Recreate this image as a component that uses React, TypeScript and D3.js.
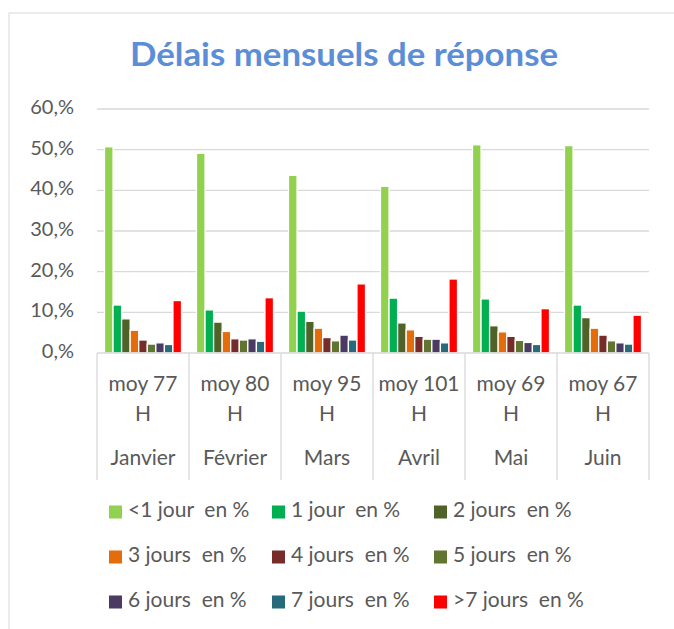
import React from 'react'
import * as d3 from 'd3'

const months = ['Janvier', 'Février', 'Mars', 'Avril', 'Mai', 'Juin']
const moyLabels = ['moy 77', 'moy 80', 'moy 95', 'moy 101', 'moy 69', 'moy 67']
const yTicks = [0, 10, 20, 30, 40, 50, 60]

const seriesNames = [
  '<1 jour  en %', '1 jour  en %', '2 jours  en %',
  '3 jours  en %', '4 jours  en %', '5 jours  en %',
  '6 jours  en %', '7 jours  en %', '>7 jours  en %'
]
const seriesColors = ['#92D050', '#00B050', '#4F6228', '#E46C0A', '#772C2A', '#5F7530', '#4B3A62', '#276A7C', '#FF0000']

const lessThan1 = [50.7, 49.1, 43.7, 41.0, 51.2, 51.0]
const day1 = [11.8, 10.6, 10.3, 13.5, 13.3, 11.8]
const days2 = [8.4, 7.6, 7.8, 7.4, 6.7, 8.7]
const days3 = [5.6, 5.3, 6.1, 5.7, 5.2, 6.1]
const days4 = [3.2, 3.5, 3.8, 4.1, 4.1, 4.4]
const days5 = [2.2, 3.2, 3.0, 3.4, 3.1, 3.0]
const days6 = [2.5, 3.5, 4.4, 3.4, 2.6, 2.5]
const days7 = [2.1, 2.9, 3.2, 2.5, 2.1, 2.2]
const moreThan7 = [12.9, 13.6, 17.0, 18.2, 10.9, 9.3]

const seriesValues = [lessThan1, day1, days2, days3, days4, days5, days6, days7, moreThan7]

const font = 'Lato, "Open Sans", sans-serif'
const textColor = '#595959'

export default function App() {
  const left = 97, right = 649, top = 109, bottom = 353

  const x0 = d3.scaleBand<string>().domain(months).range([left, right])
    .paddingInner(0.163).paddingOuter(0.0815)
  const x1 = d3.scaleBand<number>().domain(d3.range(seriesNames.length)).range([0, x0.bandwidth()])
  const y = d3.scaleLinear().domain([0, 60]).range([bottom, top])

  const step = x0.step()
  const bounds = d3.range(months.length + 1).map(i => left + i * step)

  const legendCols = [109, 272, 434]
  const legendRows = [512, 557, 602]

  return (
    <svg width={674} height={629} style={{ position: 'absolute', left: 0, top: 0, background: '#fff' }}>
      <rect x={9} y={13} width={700} height={700} fill="#fff" stroke="#d9d9d9" strokeWidth={1} />

      <text x={344} y={58} textAnchor="middle" dominantBaseline="middle" fontFamily={font}
        fontWeight="bold" fontSize={33} fill="#5B8ED6" textLength={428} lengthAdjust="spacingAndGlyphs">
        Délais mensuels de réponse
      </text>

      {yTicks.map(t => (
        <g key={t}>
          {t > 0 && <line x1={left} x2={right} y1={y(t)} y2={y(t)} stroke="#d9d9d9" strokeWidth={1.3} />}
          <text x={74} y={y(t)} textAnchor="end" dominantBaseline="middle" fontFamily={font}
            fontSize={20} fill={textColor}>{`${t},%`}</text>
        </g>
      ))}

      {seriesValues.map((vals, si) => (
        <g key={si} fill={seriesColors[si]}>
          {vals.map((v, mi) => (
            <rect key={mi} x={(x0(months[mi]) as number) + (x1(si) as number)} y={y(v)}
              width={x1.bandwidth()} height={y(0) - y(v)} stroke="#fff" strokeWidth={1.3} />
          ))}
        </g>
      ))}

      <line x1={left} x2={right} y1={bottom} y2={bottom} stroke="#d9d9d9" strokeWidth={1.3} />
      {bounds.map((bx, i) => (
        <line key={i} x1={bx} x2={bx} y1={bottom} y2={480} stroke="#d9d9d9" strokeWidth={1.3} />
      ))}

      {months.map((m, i) => {
        const cx = left + step * (i + 0.5)
        return (
          <g key={m} fontFamily={font} fontSize={21} fill={textColor} textAnchor="middle">
            <text x={cx} y={386} dominantBaseline="middle">{moyLabels[i]}</text>
            <text x={cx} y={416} dominantBaseline="middle">H</text>
            <text x={cx} y={460} dominantBaseline="middle">{m}</text>
          </g>
        )
      })}

      {seriesNames.map((name, i) => {
        const lx = legendCols[i % 3]
        const ly = legendRows[Math.floor(i / 3)]
        return (
          <g key={name}>
            <rect x={lx} y={ly - 6.5} width={13} height={13} fill={seriesColors[i]} />
            <text x={lx + 19} y={ly} dominantBaseline="middle" fontFamily={font} fontSize={21}
              fill={textColor} style={{ whiteSpace: 'pre' }}>{name}</text>
          </g>
        )
      })}
    </svg>
  )
}
